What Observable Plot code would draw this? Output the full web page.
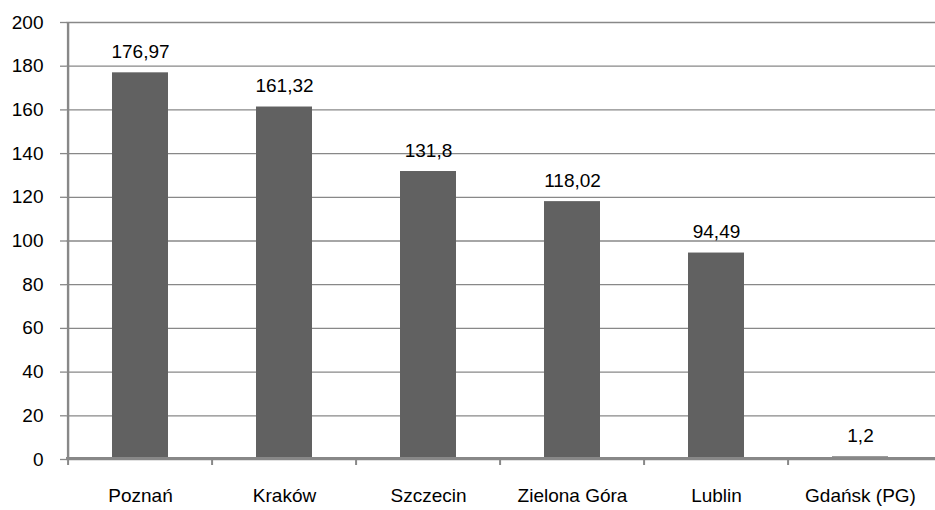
<!DOCTYPE html>
<html>
<head>
<meta charset="utf-8">
<script src="https://cdn.jsdelivr.net/npm/d3@7"></script>
<script src="https://cdn.jsdelivr.net/npm/@observablehq/plot@0.6"></script>
<style>
  html, body { margin: 0; padding: 0; background: #fff; }
  #chart svg { display: block; }
</style>
</head>
<body>
<div id="chart"></div>
<script>
const categories = ["Poznań", "Kraków", "Szczecin", "Zielona Góra", "Lublin", "Gdańsk (PG)"];
const values = [176.97, 161.32, 131.8, 118.02, 94.49, 1.2];
const yTicks = [0, 20, 40, 60, 80, 100, 120, 140, 160, 180, 200];

const data = categories.map((c, i) => ({ city: c, value: values[i] }));
const fmt = v => String(v).replace(".", ",");

const W = 935, H = 510, mL = 66, mR = 0, mT = 22, mB = 51;
const step = (W - mL - mR) / categories.length;
const grid = "#888888";
const font = "'Liberation Sans', Arial, sans-serif";
const fs = 19;

const chart = Plot.plot({
  width: W,
  height: H,
  marginLeft: mL,
  marginRight: mR,
  marginTop: mT,
  marginBottom: mB,
  style: { fontFamily: font, fontSize: fs + "px", color: "black", background: "white" },
  x: { domain: categories, paddingInner: 0.61, paddingOuter: 0.305, label: null },
  y: { domain: [0, 200], label: null },
  marks: [
    Plot.gridY(yTicks, { stroke: grid, strokeOpacity: 1, strokeWidth: 1.3 }),
    Plot.axisY(yTicks, { tickSize: 6, tickPadding: 17, stroke: grid, fill: "black", strokeWidth: 1.3, label: null, fontSize: fs }),
    Plot.barY(data, { x: "city", y: "value", fill: "#616161" }),
    Plot.text(data, { x: "city", y: "value", text: d => fmt(d.value), dy: -21, fill: "black", fontSize: fs }),
    Plot.ruleY([0], { stroke: grid, strokeWidth: 3, dy: -1 }),
    Plot.ruleX([categories[0]], { dx: -step / 2, stroke: grid, strokeWidth: 2.4 }),
    Plot.axisX({ tickSize: 6, text: null, dx: -step / 2, stroke: grid, strokeWidth: 2, label: null }),
    Plot.axisX({ tickSize: 0, tickPadding: 29, fill: "black", label: null, fontSize: fs })
  ]
});
document.getElementById("chart").appendChild(chart);
</script>
</body>
</html>
